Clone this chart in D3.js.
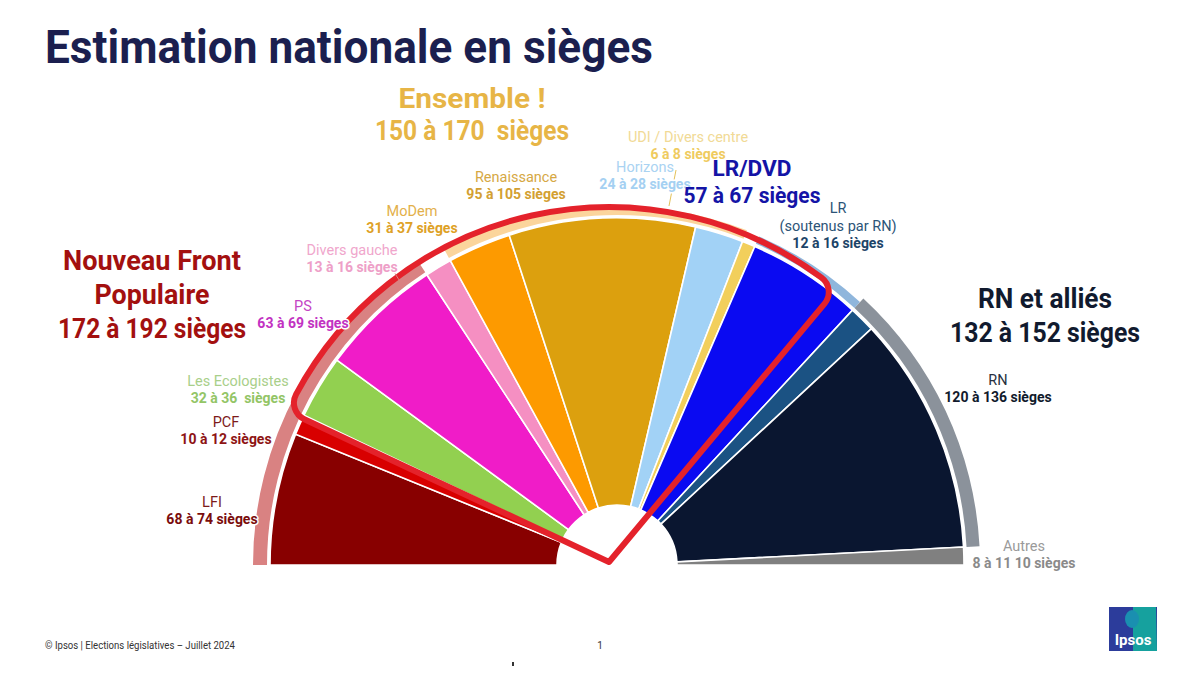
<!DOCTYPE html>
<html>
<head>
<meta charset="utf-8">
<script src="https://cdn.jsdelivr.net/npm/d3@7"></script>
<style>
  body { margin: 0; background: #fff; }
  text { font-family: Roboto, "Noto Sans", sans-serif; white-space: pre; }
</style>
</head>
<body>
<svg id="chart" width="1200" height="675"></svg>
<script>
// parties, from left to right in the hemicycle
const parties = ["LFI", "PCF", "Les Ecologistes", "PS", "Divers gauche", "MoDem", "Renaissance",
  "Horizons", "UDI / Divers centre", "LR/DVD", "LR (soutenus par RN)", "RN", "Autres"];
const seatsLow  = [68, 10, 32, 63, 13, 31, 95, 24, 6, 57, 12, 120, 8];
const seatsHigh = [74, 12, 36, 69, 16, 37, 105, 28, 8, 67, 16, 136, 11];
const seatText  = ["68 à 74 sièges", "10 à 12 sièges", "32 à 36  sièges", "63 à 69 sièges",
  "13 à 16 sièges", "31 à 37 sièges", "95 à 105 sièges", "24 à 28 sièges", "6 à 8 sièges",
  "", "12 à 16 sièges", "120 à 136 sièges", "8 à 11 10 sièges"];

// blocs
const groups     = ["Nouveau Front Populaire", "Ensemble !", "LR/DVD", "RN et alliés"];
const groupLow   = [172, 150, 57, 132];
const groupHigh  = [192, 170, 67, 152];
const groupFirst = [0, 5, 9, 10];   // index of first party in the bloc

const seatsMid = seatsLow.map((d, i) => (d + seatsHigh[i]) / 2);
const total = d3.sum(seatsMid);

const colors = ["#880000", "#d80000", "#92d050", "#f01cc8", "#f58fc2", "#fd9a00", "#dca00e",
  "#a2d2f6", "#f2cf5c", "#0a0af2", "#1b5283", "#0a1630", "#808080"];
const groupColors = ["#d98282", "#fbd59c", "#8fb6dc", "#8b929b"];
const groupWidth  = [14, 9, 8, 13];

const svg = d3.select("#chart");
const cx = 617, cy = 565, rIn = 60, rOut = 347;

// title
svg.append("text")
  .attr("x", 45).attr("y", 63)
  .attr("font-size", 46).attr("font-weight", 700).attr("fill", "#1b1f4f")
  .attr("textLength", 608).attr("lengthAdjust", "spacingAndGlyphs")
  .text("Estimation nationale en sièges");

const g = svg.append("g").attr("transform", `translate(${cx},${cy})`);

const pie = d3.pie().sort(null).value(d => d)
  .startAngle(-Math.PI / 2).endAngle(Math.PI / 2);
const slices = pie(seatsMid);
const angle = d3.scaleLinear().domain([0, total]).range([-Math.PI / 2, Math.PI / 2]);
const cum = d3.cumsum([0].concat(seatsMid));

// bloc arcs outside the hemicycle
groups.forEach((name, i) => {
  const s = cum[groupFirst[i]];
  const mid = (groupLow[i] + groupHigh[i]) / 2;
  g.append("path")
    .attr("d", d3.arc()
      .innerRadius(rOut + 3).outerRadius(rOut + 3 + groupWidth[i])
      .startAngle(angle(s)).endAngle(angle(s + mid))())
    .attr("fill", groupColors[i]);
});

// party slices
g.selectAll("path.slice")
  .data(slices)
  .join("path")
  .attr("class", "slice")
  .attr("d", d3.arc().innerRadius(rIn).outerRadius(rOut))
  .attr("fill", (d, i) => colors[i])
  .attr("stroke", "#fff")
  .attr("stroke-width", 1.6);

// hole in the middle
g.append("path")
  .attr("d", d3.arc().innerRadius(0).outerRadius(rIn - 1)
    .startAngle(-Math.PI / 2).endAngle(Math.PI / 2)())
  .attr("fill", "#fff");

// hand drawn red contour
g.append("path")
  .attr("transform", "translate(-8,-3)")
  .attr("d", d3.arc()
    .innerRadius(0).outerRadius(rOut + 8).cornerRadius(18)
    .startAngle(angle(cum[2] - 1.5)).endAngle(angle(cum[9] + seatsMid[9] * 0.85))())
  .attr("fill", "none")
  .attr("stroke", "#e4222b")
  .attr("stroke-width", 6)
  .attr("stroke-linejoin", "round");

// leader lines
const leaders = [[676, 170, 669, 206, "#e3c25a"], [394, 272, 401, 283, "#d98282"]];
svg.selectAll("line.leader").data(leaders).join("line")
  .attr("x1", d => d[0]).attr("y1", d => d[1]).attr("x2", d => d[2]).attr("y2", d => d[3])
  .attr("stroke", d => d[4]).attr("stroke-width", 1);

// party labels : name lines, position, colours
const partyLabelLines = [["LFI"], ["PCF"], ["Les Ecologistes"], ["PS"], ["Divers gauche"], ["MoDem"],
  ["Renaissance"], ["Horizons"], ["UDI / Divers centre"], [], ["LR", "(soutenus par RN)"], ["RN"], ["Autres"]];
const labelPos = [[212, 507], [226, 427], [238, 386], [303, 311], [352, 255], [412, 216],
  [516, 182], [645, 172], [688, 142], null, [838, 213], [998, 385], [1024, 551]];
const nameColor = ["#7d1a1a", "#7d1a1a", "#a9cf8a", "#c445c4", "#f0a6cc", "#e3b04a", "#d6a844",
  "#aad3f2", "#f1da96", null, "#2c5477", "#28303e", "#9a9a9a"];
const numColor = ["#7a0c0c", "#8e1414", "#93c566", "#c232c2", "#ee9fc8", "#dea126", "#d3a032",
  "#a4d0f2", "#efcb5f", null, "#1c4468", "#111a2c", "#8a8a8a"];

parties.forEach((p, i) => {
  if (!labelPos[i]) return;
  const [x, y] = labelPos[i];
  const lines = partyLabelLines[i];
  const t = svg.append("text").attr("text-anchor", "middle")
    .attr("stroke", "#fff").attr("stroke-width", 3).attr("paint-order", "stroke")
    .attr("stroke-linejoin", "round");
  lines.forEach((l, k) => {
    t.append("tspan").attr("x", x).attr("y", y + k * 18)
      .attr("font-size", 14.5).attr("fill", nameColor[i]).text(l);
  });
  t.append("tspan").attr("x", x).attr("y", y + lines.length * 18 - 1)
    .attr("font-size", 14).attr("font-weight", 700).attr("fill", numColor[i])
    .text(seatText[i]);
});

// bloc labels
const blocLines = [["Nouveau Front", "Populaire"], ["Ensemble !"], ["LR/DVD"], ["RN et alliés"]];
const blocPos = [[152, 270, 34], [472, 108, 32], [752, 176, 27], [1045, 308, 34]];
const blocSize = [27, 27, 22, 27];
const blocColor = ["#a3100f", "#e7b546", "#1414a6", "#111a2e"];
const blocWidths = [[178, 115, 188], [147, 194], [79, 137], [134, 190]];

groups.forEach((name, i) => {
  const [x, y, lh] = blocPos[i];
  const lines = blocLines[i].concat([
    i === 1 ? `${groupLow[i]} à ${groupHigh[i]}  sièges` : `${groupLow[i]} à ${groupHigh[i]} sièges`]);
  lines.forEach((l, k) => {
    svg.append("text")
      .attr("x", x).attr("y", y + k * lh)
      .attr("text-anchor", "middle")
      .attr("font-size", blocSize[i]).attr("font-weight", 700)
      .attr("fill", blocColor[i])
      .attr("textLength", blocWidths[i][k]).attr("lengthAdjust", "spacingAndGlyphs")
      .text(l);
  });
});

// footer
svg.append("text").attr("x", 45).attr("y", 649)
  .attr("font-size", 10).attr("fill", "#333")
  .attr("textLength", 190).attr("lengthAdjust", "spacingAndGlyphs")
  .text("© Ipsos | Elections législatives – Juillet 2024");
svg.append("text").attr("x", 600).attr("y", 649).attr("text-anchor", "middle")
  .attr("font-size", 10).attr("fill", "#333").text("1");
svg.append("rect").attr("x", 512).attr("y", 662).attr("width", 2).attr("height", 4).attr("fill", "#333");

// Ipsos logo
const logo = svg.append("g").attr("transform", "translate(1109,607)");
logo.append("rect").attr("width", 48).attr("height", 44).attr("fill", "#2c3c9b");
logo.append("path").attr("d", "M24,0 H47 L48,44 H24 Z").attr("fill", "#16a19e");
logo.append("ellipse").attr("cx", 23).attr("cy", 12).attr("rx", 7).attr("ry", 9).attr("fill", "#1a8fb0");
logo.append("text").attr("x", 24).attr("y", 38).attr("text-anchor", "middle")
  .attr("font-size", 15).attr("font-weight", 700).attr("fill", "#fff").text("Ipsos");
</script>
</body>
</html>
